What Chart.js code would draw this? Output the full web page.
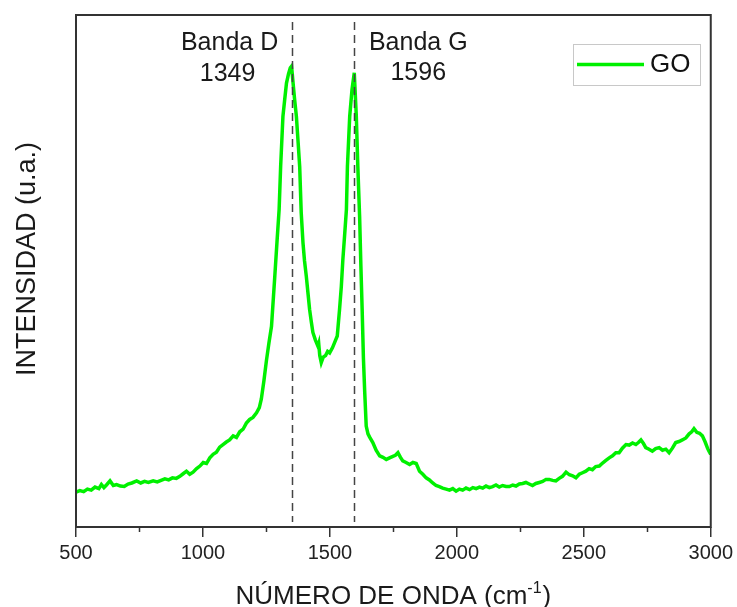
<!DOCTYPE html>
<html>
<head>
<meta charset="utf-8">
<script src="https://cdn.jsdelivr.net/npm/chart.js@4.4.1/dist/chart.umd.min.js"></script>
<style>
html,body{margin:0;padding:0;background:#fff;}
#wrap{width:737px;height:607px;position:relative;}
</style>
</head>
<body>
<div id="wrap"><canvas id="c" width="737" height="607"></canvas></div>
<script>
// Raman spectrum of GO
const wavenumber = [
 500,515,530,545,560,575,590,600,610,620,634,647,660,675,690,705,720,739,755,770,
 785,804,820,835,850,865,880,895,909,922,935,948,961,975,988,1001,1014,1027,1040,1053,
 1066,1079,1092,1105,1119,1132,1145,1158,1171,1184,1197,1211,1222,1230,1240,1250,1260,1270,1283,1292,
 1300,1306,1315,1322,1329,1337,1344,1349,1355,1361,1368,1375,1381,1387,1394,1400,1407,1414,1420,1427,
 1433,1443,1453,1456,1460,1466,1474,1483,1491,1499,1510,1520,1529,1538,1545,1551,1558,1565,1569,1578,
 1587,1596,1604,1610,1617,1622,1627,1632,1637,1643,1650,1656,1669,1682,1696,1709,1722,1735,1748,1758,
 1768,1778,1787,1800,1814,1827,1840,1853,1866,1879,1892,1905,1918,1931,1944,1958,1971,1984,1997,2010,
 2023,2036,2050,2063,2076,2089,2102,2115,2128,2141,2154,2167,2180,2194,2207,2220,2233,2246,2259,2272,
 2285,2298,2311,2325,2338,2351,2364,2377,2390,2403,2416,2430,2443,2456,2469,2482,2495,2508,2521,2534,
 2547,2561,2574,2587,2600,2613,2626,2639,2652,2666,2679,2692,2705,2715,2725,2735,2744,2757,2770,2783,
 2797,2810,2823,2836,2849,2862,2875,2888,2902,2915,2925,2934,2945,2956,2967,2978,2988,2993,3000
];
const intensityGO = [
 6.8,7.1,6.9,7.4,7.2,7.8,7.5,8.3,7.7,8.2,9.0,8.1,8.3,8.0,7.9,8.4,8.6,9.0,8.6,8.9,
 8.7,9.0,8.8,9.1,9.4,9.2,9.6,9.5,9.9,10.4,10.9,10.3,10.7,11.4,11.9,12.6,12.4,13.5,14.2,14.6,
 15.6,16.1,16.6,17.0,17.8,17.5,18.6,19.1,20.3,21.0,21.4,22.3,23.3,25.0,28.5,32.5,36.0,39.2,49.0,56.0,
 62.0,70.4,80.2,83.5,86.7,88.5,89.7,90.0,86.7,83.5,80.2,75.0,70.4,61.4,55.5,52.0,49.0,45.5,42.5,40.0,
 38.0,36.5,35.3,35.8,33.5,32.1,33.2,33.5,34.3,34.0,35.0,36.2,37.3,42.5,47.0,52.2,57.0,62.0,70.4,80.2,
 85.4,88.7,80.2,70.4,60.7,51.0,42.5,33.0,26.5,19.7,18.2,17.6,16.5,15.0,13.9,13.6,13.2,13.5,13.8,14.0,
 14.5,13.6,12.9,12.6,12.2,12.6,12.4,10.9,10.3,9.6,9.2,8.6,8.1,7.9,7.6,7.4,7.2,7.5,7.0,7.4,
 7.2,7.6,7.3,7.7,7.5,7.8,7.6,8.0,7.7,7.9,8.2,7.8,8.1,7.9,7.9,8.2,8.0,8.4,8.5,8.7,
 8.4,8.1,8.5,8.7,8.9,9.3,9.3,9.1,9.0,9.5,9.9,10.7,10.2,10.0,9.6,10.3,10.6,10.9,11.4,11.2,
 11.8,11.9,12.5,13.0,13.5,13.9,14.5,14.5,15.4,16.1,16.0,16.4,16.1,16.5,17.0,16.3,15.5,15.2,14.8,15.3,
 15.5,15.0,15.2,14.5,15.4,16.5,16.7,17.0,17.4,18.2,18.6,19.2,18.5,18.3,17.8,16.6,15.3,14.8,14.2
];
const xMajorTicks = [500,1000,1500,2000,2500,3000];
const xMinorTicks = [750,1250,1750,2250,2750];
const bandPositions = [1349,1596];
const bandNames = ['Banda D','Banda G'];
const seriesName = 'GO';
const xTitleMain = 'NÚMERO DE ONDA (cm';
const xTitleSup = '-1';
const xTitleEnd = ')';
const yTitle = 'INTENSIDAD (u.a.)';

const FONT = "'Liberation Sans', Arial, sans-serif";

const decor = {
  id:'decor',
  afterDatasetsDraw(chart){
    const {ctx, chartArea:a, scales:{x}} = chart;
    ctx.save();
    ctx.strokeStyle='#444'; ctx.lineWidth=1.5; ctx.setLineDash([8,5]);
    bandPositions.forEach(v=>{
      const px=Math.round(x.getPixelForValue(v))+0.5;
      ctx.beginPath(); ctx.moveTo(px,a.top+7); ctx.lineTo(px,a.bottom-5); ctx.stroke();
    });
    ctx.setLineDash([]);
    ctx.fillStyle='#1a1a1a'; ctx.font='25px '+FONT; ctx.textAlign='center'; ctx.textBaseline='middle';
    const pD=x.getPixelForValue(bandPositions[0]), pG=x.getPixelForValue(bandPositions[1]);
    ctx.fillText(bandNames[0], pD-62, a.top+28);
    ctx.fillText(String(bandPositions[0]), pD-64, a.top+59);
    ctx.fillText(bandNames[1], pG+64, a.top+28);
    ctx.fillText(String(bandPositions[1]), pG+64, a.top+58);
    ctx.restore();
  },
  afterDraw(chart){
    const {ctx, chartArea:a, scales:{x}} = chart;
    ctx.save();
    // frame
    ctx.strokeStyle='#333'; ctx.lineWidth=2;
    ctx.strokeRect(a.left, a.top, a.right-a.left, a.bottom-a.top);
    // minor ticks
    ctx.lineWidth=1.5;
    xMinorTicks.forEach(v=>{
      const px=Math.round(x.getPixelForValue(v))+0.5;
      ctx.beginPath(); ctx.moveTo(px,a.bottom); ctx.lineTo(px,a.bottom+5); ctx.stroke();
    });
    // legend
    const lx=573, ly=44, lw=127, lh=41;
    ctx.fillStyle='#fff'; ctx.fillRect(lx,ly,lw,lh);
    ctx.strokeStyle='#c8c8c8'; ctx.lineWidth=1; ctx.strokeRect(lx+0.5,ly+0.5,lw,lh);
    ctx.strokeStyle='#00f000'; ctx.lineWidth=3.5;
    ctx.beginPath(); ctx.moveTo(lx+4,ly+20.5); ctx.lineTo(lx+71,ly+20.5); ctx.stroke();
    ctx.fillStyle='#111'; ctx.font='26px '+FONT; ctx.textAlign='left'; ctx.textBaseline='middle';
    ctx.fillText(seriesName, lx+77, ly+21);
    // x title with superscript
    ctx.fillStyle='#1a1a1a'; ctx.textBaseline='alphabetic';
    const big='26px '+FONT, small='16px '+FONT;
    ctx.font=big; const w1=ctx.measureText(xTitleMain).width, w3=ctx.measureText(xTitleEnd).width;
    ctx.font=small; const w2=ctx.measureText(xTitleSup).width;
    const tot=w1+w2+w3+1;
    let tx=(a.left+a.right)/2 - tot/2;
    const by=604;
    ctx.font=big; ctx.fillText(xTitleMain, tx, by); tx+=w1;
    ctx.font=small; ctx.fillText(xTitleSup, tx, by-11); tx+=w2+1;
    ctx.font=big; ctx.fillText(xTitleEnd, tx, by);
    // y title
    ctx.translate(28,259); ctx.rotate(-Math.PI/2);
    ctx.font='27px '+FONT; ctx.textAlign='center'; ctx.textBaseline='middle';
    ctx.fillText(yTitle,0,0);
    ctx.restore();
  }
};

new Chart(document.getElementById('c'), {
  type:'line',
  data:{
    datasets:[{
      label:seriesName,
      data: wavenumber.map((w,i)=>({x:w,y:intensityGO[i]})),
      borderColor:'#00f000',
      borderWidth:3.5,
      pointRadius:0,
      tension:0,
      fill:false
    }]
  },
  options:{
    responsive:false,
    animation:false,
    devicePixelRatio:1,
    layout:{padding:{left:0,right:26,top:15,bottom:0}},
    plugins:{legend:{display:false},tooltip:{enabled:false}},
    scales:{
      x:{
        type:'linear', min:500, max:3000,
        afterBuildTicks:(s)=>{ s.ticks = xMajorTicks.map(v=>({value:v})); },
        afterFit:(s)=>{ s.height=80; },
        border:{display:false},
        grid:{drawOnChartArea:false, drawTicks:true, tickLength:10, color:'#333', lineWidth:1.5},
        ticks:{font:{family:FONT,size:20}, color:'#222', padding:4, maxRotation:0, autoSkip:false,
               callback:(v)=>String(v)},
        title:{display:false}
      },
      y:{
        min:0, max:100,
        afterFit:(s)=>{ s.width=76; },
        border:{display:false},
        grid:{display:false},
        ticks:{display:false},
        title:{display:false}
      }
    }
  },
  plugins:[decor]
});
</script>
</body>
</html>
